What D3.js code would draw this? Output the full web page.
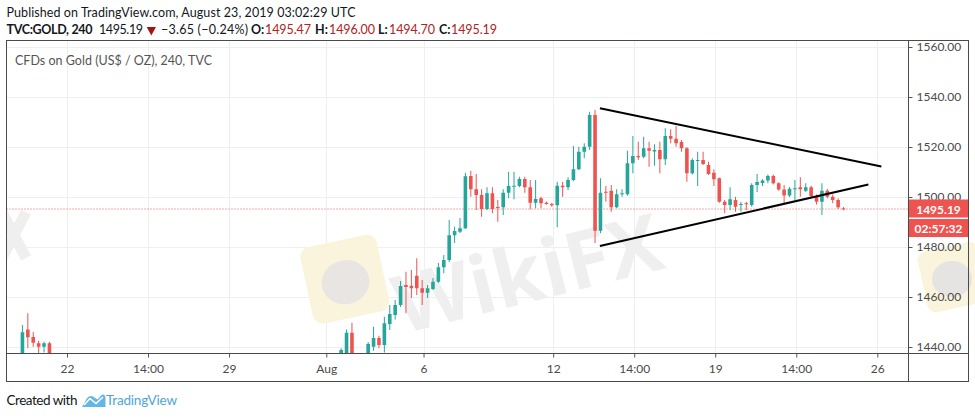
<!DOCTYPE html>
<html><head><meta charset="utf-8">
<script src="https://cdn.jsdelivr.net/npm/d3@7"></script>
<style>
body{margin:0;background:#fff;}
svg{display:block;font-family:Lato,"Open Sans",sans-serif;}
</style>
</head><body>
<svg id="chart" width="975" height="418"></svg>
<script>
// ---------- DATA ----------
// bar counts are 4-hour bars counted from the Jul 22 session open
const julyFirstBar = -9;
const julyOpen  = [1436.0,1447.0,1444.0,1441.5,1440.1,1441.5];
const julyHigh  = [1448.8,1453.5,1446.0,1442.5,1442.1,1442.1];
const julyLow   = [1434.0,1439.5,1440.1,1437.6,1437.8,1434.0];
const julyClose = [1445.9,1443.9,1441.7,1440.1,1441.5,1436.5];

const augFirstBar = 50;
const augOpen = [1436.5,1437.0,1445.7,null,null,1436.0,1440.1,1443.6,1440.8,1449.2,
 1452.8,1456.8,1464.8,1464.5,1468.5,1463.5,1461.7,1463.2,1466.1,1471.9,
 1474.8,1484.7,1486.1,1487.5,1508.4,1503.1,1500.8,1495.2,1501.5,1496.0,
 1495.9,1501.7,1504.2,1504.4,1507.2,1503.9,1497.7,1499.5,1497.7,1497.2,
 1496.7,1504.5,1503.9,1506.8,1511.1,1518.1,1520.1,1532.8,1486.5,1502.1,
 1502.5,1495.9,1501.1,1501.1,1513.5,1516.4,1516.1,1519.5,1518.2,1518.8,
 1515.1,1524.4,1523.3,1522.0,1519.5,1509.5,1514.6,1514.8,1512.8,1509.7,
 1507.5,1498.1,1496.8,1498.8,1496.8,1497.5,1496.8,1504.8,1505.6,1506.6,
 1508.4,1505.5,1503.0,1500.6,1503.1,1503.9,1502.5,1503.9,1500.4,1498.1,
 1502.5,1500.1,1498.8,1495.47];
const augHigh = [1439.5,1447.0,1449.7,null,null,1442.0,1448.1,1444.5,1452.1,1456.8,
 1458.8,1466.4,1470.1,1470.8,1475.5,1466.8,1464.8,1467.6,1473.6,1476.8,
 1490.8,1488.1,1491.6,1509.7,1510.5,1509.2,1503.1,1503.9,1503.9,1498.8,
 1503.1,1510.1,1510.1,1508.1,1508.1,1506.8,1506.8,1500.1,1498.2,1497.7,
 1506.1,1506.1,1507.9,1520.4,1520.1,1521.5,1534.1,1534.8,1507.5,1504.4,
 1504.8,1503.1,1503.1,1518.5,1524.4,1522.1,1524.1,1522.1,1521.1,1522.1,
 1527.5,1527.1,1528.4,1522.8,1520.0,1515.5,1518.1,1518.1,1514.1,1511.1,
 1507.8,1498.8,1503.9,1500.1,1498.1,1498.1,1505.5,1509.2,1507.1,1509.0,
 1509.0,1505.9,1504.8,1504.0,1506.8,1507.9,1505.5,1504.5,1501.0,1505.5,
 1503.2,1501.0,1499.5,1496.00];
const augLow = [1435.0,1435.0,1432.0,null,null,1434.0,1438.5,1439.5,1437.8,1446.8,
 1451.0,1456.0,1453.5,1459.6,1460.8,1456.8,1459.6,1462.8,1465.6,1469.5,
 1474.0,1481.6,1485.6,1487.2,1500.1,1494.8,1492.1,1494.8,1493.5,1490.1,
 1492.8,1499.5,1499.1,1503.9,1501.7,1495.1,1495.5,1495.5,1496.9,1496.1,
 1487.9,1500.1,1502.8,1506.3,1510.8,1515.5,1518.8,1481.6,1485.5,1498.1,
 1494.1,1495.5,1500.1,1500.5,1509.5,1514.8,1515.5,1512.1,1512.5,1509.5,
 1512.8,1521.5,1520.1,1518.1,1506.1,1509.0,1504.4,1512.8,1508.8,1504.4,
 1497.7,1493.5,1494.8,1494.1,1494.1,1494.8,1496.1,1502.0,1504.4,1505.5,
 1505.0,1502.5,1497.2,1500.0,1498.8,1500.1,1502.0,1499.8,1497.0,1492.8,
 1499.5,1497.5,1495.2,1494.70];
const augClose = [1438.8,1445.7,1436.0,null,null,1441.2,1443.6,1440.8,1449.5,1453.2,
 1456.8,1464.4,1464.0,1463.5,1463.5,1461.7,1463.5,1466.1,1471.9,1474.8,
 1484.7,1486.4,1487.5,1508.3,1503.1,1500.8,1495.2,1501.5,1495.2,1495.7,
 1501.7,1504.4,1504.5,1507.2,1503.9,1497.7,1499.2,1497.5,1497.2,1496.7,
 1504.5,1503.9,1506.8,1511.1,1518.1,1520.1,1532.8,1486.5,1501.7,1501.7,
 1495.9,1501.1,1501.5,1513.5,1516.4,1515.9,1519.5,1518.5,1518.8,1515.1,
 1524.4,1523.3,1521.5,1519.5,1509.5,1514.8,1514.8,1513.2,1509.2,1507.1,
 1498.1,1496.8,1499.1,1496.1,1497.2,1497.1,1504.8,1506.0,1506.6,1508.4,
 1505.5,1503.0,1500.6,1503.3,1503.5,1503.1,1503.9,1500.4,1498.1,1502.5,
 1500.1,1498.8,1495.9,1495.19];

const priceTicks = [1440,1460,1480,1500,1520,1540,1560];
const timeTickBars = [0,15,30,48,66,90,105,120,135,150];
const timeTickLabels = ["22","14:00","29","Aug","6","12","14:00","19","14:00","26"];

const lastPrice = 1495.19;
const countdown = "02:57:32";
const headerLine1 = "Published on TradingView.com, August 23, 2019 03:02:29 UTC";
const symbolLabel = "TVC:GOLD, 240";
const changeLabel = "\u22123.65 (\u22120.24%)";
const ohlcKeys = ["O:","H:","L:","C:"];
const ohlcValues = ["1495.47","1496.00","1494.70","1495.19"];
const subtitle = "CFDs on Gold (US$ / OZ), 240, TVC";

// trend lines drawn on the chart (bar, price)
const upperLineBars = [97.9, 150];
const upperLinePrices = [1535.5, 1512.2];
const lowerLineBars = [97.9, 147.6];
const lowerLinePrices = [1480.4, 1505.0];

// ---------- CHART ----------
const UP = "#26a69a", DOWN = "#ef5350";
const svg = d3.select("#chart");
const L = 6.5, T = 40.5, R = 908.5, B = 353.5, OR = 968.5, OB = 381.5;

const x = d3.scaleLinear().domain([0,150]).range([67,877.3]);
const y = d3.scaleLinear().domain([1440,1560]).range([347,47]);
const barOffset = 0.75;

function build(first,O,H,Lo,C){
  return O.map((o,i)=>({bar:first+i,o:o,h:H[i],l:Lo[i],c:C[i]})).filter(d=>d.o!=null);
}
const bars = build(julyFirstBar,julyOpen,julyHigh,julyLow,julyClose)
  .concat(build(augFirstBar,augOpen,augHigh,augLow,augClose));

svg.append("defs").append("clipPath").attr("id","plot")
  .append("rect").attr("x",L).attr("y",T).attr("width",R-L).attr("height",B-T);

// grid
const grid = svg.append("g").attr("clip-path","url(#plot)");
grid.selectAll(".vg").data(timeTickBars).join("line")
  .attr("x1",d=>Math.round(x(d))+0.5).attr("x2",d=>Math.round(x(d))+0.5)
  .attr("y1",T).attr("y2",B).attr("stroke","#edf0f3").attr("stroke-width",1);
grid.selectAll(".hg").data(priceTicks).join("line")
  .attr("x1",L).attr("x2",R).attr("y1",d=>Math.round(y(d))+0.5).attr("y2",d=>Math.round(y(d))+0.5)
  .attr("stroke","#edf0f3").attr("stroke-width",1);

// watermark (faint)
const wm = svg.append("g").attr("clip-path","url(#plot)");
wm.append("rect").attr("x",306).attr("y",240).attr("width",78).attr("height",78).attr("rx",10)
  .attr("fill","#fbf4dc").attr("transform","rotate(-12 346 280)");
wm.append("ellipse").attr("cx",345).attr("cy",282).attr("rx",24).attr("ry",22).attr("fill","#e8e5e2")
  .attr("transform","rotate(-12 346 280)");
wm.append("text").attr("x",402).attr("y",334).attr("font-size",80).attr("font-weight",700)
  .attr("fill","#efefef").attr("font-family","Open Sans, sans-serif")
  .attr("transform","rotate(-14 402 334)").text("WikiFX");
wm.append("path").attr("d","M2,212 L26,258 M26,212 L2,258")
  .attr("stroke","#efefef").attr("stroke-width",11).attr("fill","none");
const wm2 = svg.append("g");
wm2.append("rect").attr("x",922).attr("y",246).attr("width",62).attr("height",62).attr("rx",9)
  .attr("fill","#fbf4dc").attr("transform","rotate(-12 953 277)");
wm2.append("ellipse").attr("cx",952).attr("cy",279).attr("rx",20).attr("ry",18).attr("fill","#e6e4e2");

// last price dotted line
svg.append("line").attr("x1",L).attr("x2",R).attr("y1",y(lastPrice)).attr("y2",y(lastPrice))
  .attr("stroke",DOWN).attr("stroke-width",1).attr("stroke-dasharray","1,2");

// candles
const cg = svg.append("g").attr("clip-path","url(#plot)");
const bw = 3.6;
const candle = cg.selectAll("g.c").data(bars).join("g")
  .attr("fill",d=>d.c>=d.o?UP:DOWN).attr("stroke",d=>d.c>=d.o?UP:DOWN);
candle.append("line")
  .attr("x1",d=>x(d.bar+barOffset)).attr("x2",d=>x(d.bar+barOffset))
  .attr("y1",d=>y(d.h)).attr("y2",d=>y(d.l)).attr("stroke-width",1);
candle.append("rect")
  .attr("x",d=>x(d.bar+barOffset)-bw/2).attr("width",bw)
  .attr("y",d=>y(Math.max(d.o,d.c)))
  .attr("height",d=>Math.max(1,Math.abs(y(d.o)-y(d.c))))
  .attr("stroke","none");

// triangle lines
const lineGen = d3.line().x(d=>x(d[0]+barOffset)).y(d=>y(d[1]));
svg.append("path").attr("clip-path","url(#plot)")
  .attr("d",lineGen(upperLineBars.map((b,i)=>[b,upperLinePrices[i]])))
  .attr("stroke","#000").attr("stroke-width",2).attr("fill","none");
svg.append("path").attr("clip-path","url(#plot)")
  .attr("d",lineGen(lowerLineBars.map((b,i)=>[b,lowerLinePrices[i]])))
  .attr("stroke","#000").attr("stroke-width",2).attr("fill","none");

// right axis
const yAxis = svg.append("g").attr("transform",`translate(${R},0)`)
  .call(d3.axisRight(y).tickValues(priceTicks).tickFormat(d3.format(".2f")).tickSize(4).tickPadding(4));
yAxis.select(".domain").remove();
yAxis.selectAll("line").attr("stroke","#555");
yAxis.selectAll("text").attr("fill","#4a4a4a").attr("font-size",12).attr("font-family","Lato, sans-serif");

// bottom axis
const xAxis = svg.append("g").attr("transform",`translate(0,${B})`)
  .call(d3.axisBottom(x).tickValues(timeTickBars).tickFormat((d,i)=>timeTickLabels[i]).tickSize(4).tickPadding(7));
xAxis.select(".domain").remove();
xAxis.selectAll("line").attr("stroke","#555");
xAxis.selectAll("text").attr("fill","#4a4a4a").attr("font-size",12).attr("font-family","Lato, sans-serif");

// frame
const frame = svg.append("g").attr("stroke","#4a4a4a").attr("stroke-width",1).attr("fill","none");
frame.append("rect").attr("x",L).attr("y",T).attr("width",OR-L).attr("height",OB-T);
frame.append("line").attr("x1",R).attr("x2",R).attr("y1",T).attr("y2",OB);
frame.append("line").attr("x1",L).attr("x2",OR).attr("y1",B).attr("y2",B);

// price label boxes
const yl = y(lastPrice);
svg.append("rect").attr("x",R+0.5).attr("y",yl-9.5).attr("width",OR-R-1).attr("height",18).attr("fill","#ef5350");
svg.append("text").attr("x",(R+OR)/2).attr("y",yl+4.5).attr("text-anchor","middle")
  .attr("fill","#fff").attr("font-size",12).attr("font-weight",700).text(d3.format(".2f")(lastPrice));
svg.append("rect").attr("x",R+0.5).attr("y",yl+10).attr("width",OR-R-1).attr("height",18).attr("fill","#ef5350");
svg.append("text").attr("x",(R+OR)/2).attr("y",yl+23.5).attr("text-anchor","middle")
  .attr("fill","#fff").attr("font-size",12).attr("font-weight",700).text(countdown);

// subtitle
svg.append("text").attr("x",15).attr("y",65).attr("font-size",12.5).attr("fill","#555")
  .attr("textLength",197).text(subtitle);

// header
svg.append("text").attr("x",6.5).attr("y",17).attr("font-size",12.5).attr("fill","#131722")
  .attr("textLength",349).text(headerLine1);
const h2 = svg.append("g").attr("font-size",12.5).attr("fill","#131722");
h2.append("text").attr("x",6.5).attr("y",34).attr("font-weight",700).attr("textLength",86).text(symbolLabel);
h2.append("text").attr("x",99).attr("y",34).attr("textLength",44).text(d3.format(".2f")(lastPrice));
h2.append("path").attr("d","M146.7,27 L156,27 L151.3,35.5 Z").attr("fill","#a31515");
h2.append("text").attr("x",161).attr("y",34).attr("textLength",87).text(changeLabel);
const keyX = [251,315,378,439];
const valX = [265,329,389,451];
ohlcKeys.forEach((k,i)=>{
  h2.append("text").attr("x",keyX[i]).attr("y",34).attr("font-weight",700).text(k);
  h2.append("text").attr("x",valX[i]).attr("y",34).attr("fill","#b22222").attr("textLength",46).text(ohlcValues[i]);
});

// footer
svg.append("text").attr("x",6.5).attr("y",405).attr("font-size",13.5).attr("fill","#131722")
  .attr("textLength",71).text("Created with");
const logo = svg.append("g");
logo.append("path").attr("d","M82,407 L86.5,399 Q89,394.5 93,396.5 L97.5,399.5 L101,395.5 Q104,393 105.5,397 L105.5,407 Z")
  .attr("fill","#62b7e6");
logo.append("path").attr("d","M84,405 L90,398.5 L96,403.5 L103,397").attr("stroke","#fff").attr("stroke-width",1.6).attr("fill","none");
svg.append("text").attr("x",106).attr("y",405).attr("font-size",13.5).attr("fill","#4ea5d9")
  .attr("textLength",71).text("TradingView");
</script>
</body></html>
